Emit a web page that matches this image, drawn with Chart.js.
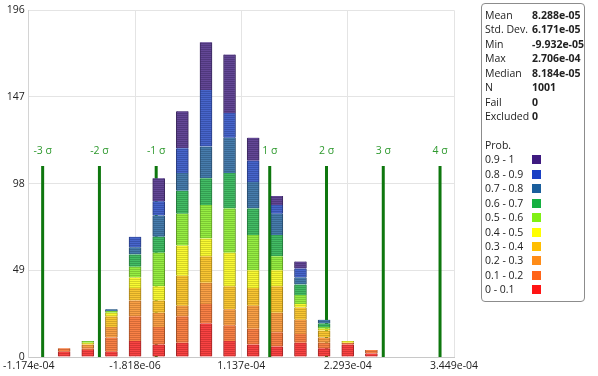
<!DOCTYPE html>
<html>
<head>
<meta charset="utf-8">
<script src="https://cdn.jsdelivr.net/npm/chart.js@4.4.0/dist/chart.umd.min.js"></script>
<style>
  body { margin: 0; background: #fff; }
  #wrap { position: relative; width: 598px; height: 376px; }
  #stats {
    position: absolute; left: 481px; top: 3px; width: 104px; height: 299px;
    box-sizing: border-box; border: 1px solid #8c8c8c; border-radius: 4px;
    padding: 4px 0 0 3px; font: 10.5px 'Open Sans', sans-serif; color: #222;
  }
  .row { display: flex; height: 14.45px; line-height: 14.45px; white-space: nowrap; }
  .lab { width: 47px; }
  .val { font-weight: bold; }
  .sw { width: 9px; height: 9px; margin-top: 3px; }
</style>
</head>
<body>
<div id="wrap">
  <canvas id="chart" width="598" height="376"></canvas>
  <div id="stats"></div>
</div>
<script>
// bin centres (x values) of the histogram
const binCenters = [-7.89e-5, -5.32e-5, -2.75e-5, -1.82e-6, 2.39e-5, 4.96e-5, 7.53e-5,
                    1.009e-4, 1.266e-4, 1.523e-4, 1.780e-4, 2.037e-4, 2.294e-4, 2.551e-4];

// counts per probability band, bottom (0 - 0.1) to top (0.9 - 1)
const p00 = [3, 4, 3, 9, 7, 8, 19, 9, 7, 6, 8, 5, 7, 2];
const p01 = [2, 1, 8, 14, 10, 15, 11, 9, 9, 8, 5, 3, 1, 2];
const p02 = [0, 2, 6, 9, 8, 6, 12, 9, 13, 11, 8, 3, 0, 0];
const p03 = [0, 0, 6, 7, 7, 17, 15, 13, 10, 15, 7, 4, 0, 0];
const p04 = [0, 1, 2, 6, 8, 17, 10, 19, 10, 9, 2, 1, 1, 0];
const p05 = [0, 1, 1, 6, 19, 18, 19, 25, 20, 8, 5, 1, 0, 0];
const p06 = [0, 0, 0, 7, 9, 13, 15, 20, 15, 12, 6, 2, 0, 0];
const p07 = [0, 0, 1, 4, 12, 10, 18, 20, 15, 12, 4, 2, 0, 0];
const p08 = [0, 0, 0, 6, 8, 14, 32, 14, 12, 5, 5, 0, 0, 0];
const p09 = [0, 0, 0, 0, 13, 21, 27, 33, 13, 5, 4, 0, 0, 0];
const bands = [p00, p01, p02, p03, p04, p05, p06, p07, p08, p09];
const bandLabels = ['0 - 0.1', '0.1 - 0.2', '0.2 - 0.3', '0.3 - 0.4', '0.4 - 0.5',
                    '0.5 - 0.6', '0.6 - 0.7', '0.7 - 0.8', '0.8 - 0.9', '0.9 - 1'];
const bandColors = ['#ff1414', '#ff6418', '#ff8c18', '#ffbe00', '#ffff00',
                    '#80f014', '#14b040', '#1a5e9c', '#1a40c4', '#3e1a80'];

// sigma markers
const sigmaNames = ['-3 σ', '-2 σ', '-1 σ', '1 σ', '2 σ', '3 σ', '4 σ'];
const sigmaValues = [-1.0225e-4, -4.054e-5, 2.117e-5, 1.4459e-4, 2.063e-4, 2.6801e-4, 3.2972e-4];
const SIGMA_TOP = 108;

// axes
const xTicks = [-1.174e-4, -1.818e-6, 1.137e-4, 2.293e-4, 3.449e-4];
const xTickLabels = ['-1.174e-04', '-1.818e-06', '1.137e-04', '2.293e-04', '3.449e-04'];
const yTicks = [0, 49, 98, 147, 196];

// stats box
const statNames = ['Mean', 'Std. Dev.', 'Min', 'Max', 'Median', 'N', 'Fail', 'Excluded'];
const statValues = ['8.288e-05', '6.171e-05', '-9.932e-05', '2.706e-04', '8.184e-05', '1001', '0', '0'];

function rgb(hex) {
  const n = parseInt(hex.slice(1), 16);
  return [(n >> 16) & 255, (n >> 8) & 255, n & 255];
}
function mixWhite(hex, a, k) {
  const c = rgb(hex).map(v => Math.round((v * k) * a + 255 * (1 - a)));
  return 'rgb(' + c.join(',') + ')';
}

const canvas = document.getElementById('chart');
const mainCtx = canvas.getContext('2d');

function stripes(hex) {
  const c = document.createElement('canvas');
  c.width = 4; c.height = 2;
  const g = c.getContext('2d');
  g.fillStyle = mixWhite(hex, 0.8, 0.97);
  g.fillRect(0, 0, 4, 1);
  g.fillStyle = mixWhite(hex, 0.85, 0.8);
  g.fillRect(0, 1, 4, 1);
  return mainCtx.createPattern(c, 'repeat');
}

const datasets = bands.map((arr, i) => ({
  type: 'bar',
  label: bandLabels[i],
  data: binCenters.map((x, j) => ({ x: x, y: arr[j] })),
  backgroundColor: stripes(bandColors[i]),
  borderColor: mixWhite(bandColors[i], 0.9, 0.6),
  borderWidth: { left: 1, right: 1, top: 0, bottom: 0 },
  barThickness: 12,
  stack: 'hist',
  order: 0
}));

sigmaValues.forEach((v, i) => {
  datasets.push({
    type: 'line',
    label: sigmaNames[i],
    data: [{ x: v, y: 0 }, { x: v, y: SIGMA_TOP }],
    borderColor: '#0e770e',
    borderWidth: 3,
    pointRadius: 0,
    stack: 'sig' + i,
    order: 1
  });
});

const sigmaLabels = {
  id: 'sigmaLabels',
  afterDatasetsDraw(chart) {
    const { ctx, scales: { x, y } } = chart;
    ctx.save();
    ctx.font = '10.5px "Open Sans"';
    ctx.fillStyle = '#2f9a2f';
    ctx.textAlign = 'center';
    ctx.textBaseline = 'middle';
    sigmaValues.forEach((v, i) => {
      ctx.fillText(sigmaNames[i], x.getPixelForValue(v), y.getPixelForValue(SIGMA_TOP) - 15);
    });
    ctx.restore();
  }
};

new Chart(mainCtx, {
  data: { datasets: datasets },
  options: {
    responsive: false,
    animation: false,
    layout: { padding: { top: 10, right: 144, left: 0, bottom: 0 } },
    plugins: { legend: { display: false }, tooltip: { enabled: false } },
    scales: {
      x: {
        type: 'linear',
        stacked: true,
        offset: false,
        min: xTicks[0],
        max: xTicks[xTicks.length - 1],
        afterBuildTicks: s => { s.ticks = xTicks.map(v => ({ value: v })); },
        afterFit: s => { s.height = 19; },
        ticks: {
          padding: 3,
          maxRotation: 0,
          color: '#222',
          font: { family: 'Open Sans', size: 10.5 },
          callback: (v, i) => xTickLabels[i]
        },
        grid: { color: '#e4e4e4', drawTicks: false, offset: false },
        border: { color: '#c8c8c8' }
      },
      y: {
        stacked: true,
        min: 0,
        max: 196,
        afterBuildTicks: s => { s.ticks = yTicks.map(v => ({ value: v })); },
        afterFit: s => { s.width = 27; },
        ticks: {
          padding: 4,
          color: '#222',
          font: { family: 'Open Sans', size: 10.5 }
        },
        grid: { color: '#e4e4e4', drawTicks: false },
        border: { color: '#d4d4d4' }
      }
    }
  },
  plugins: [sigmaLabels]
});

// stats and probability legend
const box = document.getElementById('stats');
let html = '';
statNames.forEach((n, i) => {
  html += '<div class="row"><span class="lab">' + n + '</span><span class="val">' + statValues[i] + '</span></div>';
});
html += '<div class="row"></div><div class="row">Prob.</div>';
for (let i = bandLabels.length - 1; i >= 0; i--) {
  html += '<div class="row"><span class="lab">' + bandLabels[i] + '</span><span class="sw" style="background:' + bandColors[i] + '"></span></div>';
}
box.innerHTML = html;
</script>
</body>
</html>
